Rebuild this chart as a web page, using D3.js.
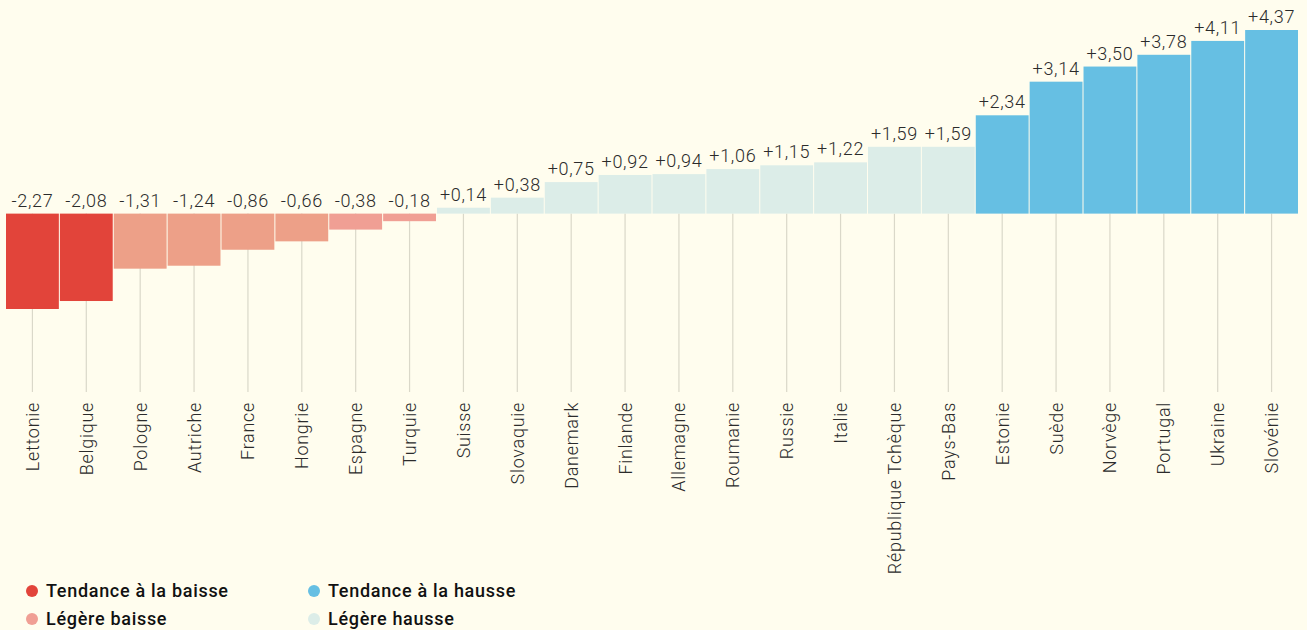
<!DOCTYPE html>
<html>
<head>
<meta charset="utf-8">
<script src="https://cdn.jsdelivr.net/npm/d3@7"></script>
<style>
  html, body { margin: 0; padding: 0; background: #fffdee; }
  svg { display: block; }
  .value { font-family: Roboto, sans-serif; font-weight: 300; font-size: 18px; fill: #2b2b2b; letter-spacing: 0.7px; }
  .country { font-family: Roboto, sans-serif; font-weight: 300; font-size: 18px; fill: #2b2b2b; letter-spacing: 0.7px; }
  .legend { font-family: Roboto, sans-serif; font-weight: 500; font-size: 18px; fill: #111; letter-spacing: 0.7px; }
</style>
</head>
<body>
<svg id="chart" width="1307" height="630"></svg>
<script>
// Data
const countries = ['Lettonie', 'Belgique', 'Pologne', 'Autriche', 'France', 'Hongrie', 'Espagne', 'Turquie',
  'Suisse', 'Slovaquie', 'Danemark', 'Finlande', 'Allemagne', 'Roumanie', 'Russie', 'Italie',
  'République Tchèque', 'Pays-Bas', 'Estonie', 'Suède', 'Norvège', 'Portugal', 'Ukraine', 'Slovénie'];
const values = [-2.27, -2.08, -1.31, -1.24, -0.86, -0.66, -0.38, -0.18,
  0.14, 0.38, 0.75, 0.92, 0.94, 1.06, 1.15, 1.22,
  1.59, 1.59, 2.34, 3.14, 3.50, 3.78, 4.11, 4.37];
const trends = ['down', 'down', 'slightDown', 'slightDown', 'slightDown', 'slightDown', 'slightDownPink', 'slightDownPink',
  'slightUp', 'slightUp', 'slightUp', 'slightUp', 'slightUp', 'slightUp', 'slightUp', 'slightUp',
  'slightUp', 'slightUp', 'up', 'up', 'up', 'up', 'up', 'up'];
const legendLabels = ['Tendance à la baisse', 'Légère baisse', 'Tendance à la hausse', 'Légère hausse'];
const legendKeys = ['down', 'slightDownPink', 'up', 'slightUp'];

const colors = {
  down: '#e2443a',
  slightDown: '#eda088',
  slightDownPink: '#f09f94',
  slightUp: '#dcede8',
  up: '#66bfe3'
};

const data = countries.map((c, i) => ({ country: c, value: values[i], trend: trends[i] }));

const svg = d3.select('#chart');

const x = d3.scaleBand()
  .domain(countries)
  .range([6, 1298])
  .paddingInner(0.019)
  .paddingOuter(0);

const y = d3.scaleLinear()
  .domain([-2.27, 4.37])
  .range([309, 30]);

const fr = d3.formatLocale({ decimal: ',', thousands: ' ', grouping: [3], currency: ['', ' €'], minus: '-' });
const fmt = fr.format('+.2f');

// guide lines from the baseline down to the labels
svg.append('g')
  .selectAll('line')
  .data(data)
  .join('line')
  .attr('x1', d => x(d.country) + x.bandwidth() / 2)
  .attr('x2', d => x(d.country) + x.bandwidth() / 2)
  .attr('y1', y(0))
  .attr('y2', 392)
  .attr('stroke', '#dad8c9')
  .attr('stroke-width', 1.2);

// bars
svg.append('g')
  .selectAll('rect')
  .data(data)
  .join('rect')
  .attr('x', d => x(d.country))
  .attr('width', x.bandwidth())
  .attr('y', d => y(Math.max(0, d.value)))
  .attr('height', d => Math.abs(y(d.value) - y(0)))
  .attr('fill', d => colors[d.trend]);

// value labels: above bar top for positives, above baseline for negatives
svg.append('g')
  .selectAll('text')
  .data(data)
  .join('text')
  .attr('class', 'value')
  .attr('x', d => x(d.country) + x.bandwidth() / 2)
  .attr('y', d => y(Math.max(0, d.value)) - 7)
  .attr('text-anchor', 'middle')
  .text(d => fmt(d.value));

// country labels, rotated
svg.append('g')
  .selectAll('text')
  .data(data)
  .join('text')
  .attr('class', 'country')
  .attr('transform', d => `translate(${x(d.country) + x.bandwidth() / 2},402) rotate(-90)`)
  .attr('text-anchor', 'end')
  .attr('dy', '0.36em')
  .text(d => d.country);

// legend (second row sits on the bottom edge, as in the source)
const legend = svg.append('g')
  .selectAll('g')
  .data(legendLabels)
  .join('g')
  .attr('transform', (d, i) => `translate(${i < 2 ? 32 : 314},${i % 2 === 0 ? 591 : 619})`);

legend.append('circle')
  .attr('r', 6)
  .attr('fill', (d, i) => colors[legendKeys[i]]);

legend.append('text')
  .attr('class', 'legend')
  .attr('x', 14)
  .attr('dy', '0.36em')
  .text(d => d);
</script>
</body>
</html>
